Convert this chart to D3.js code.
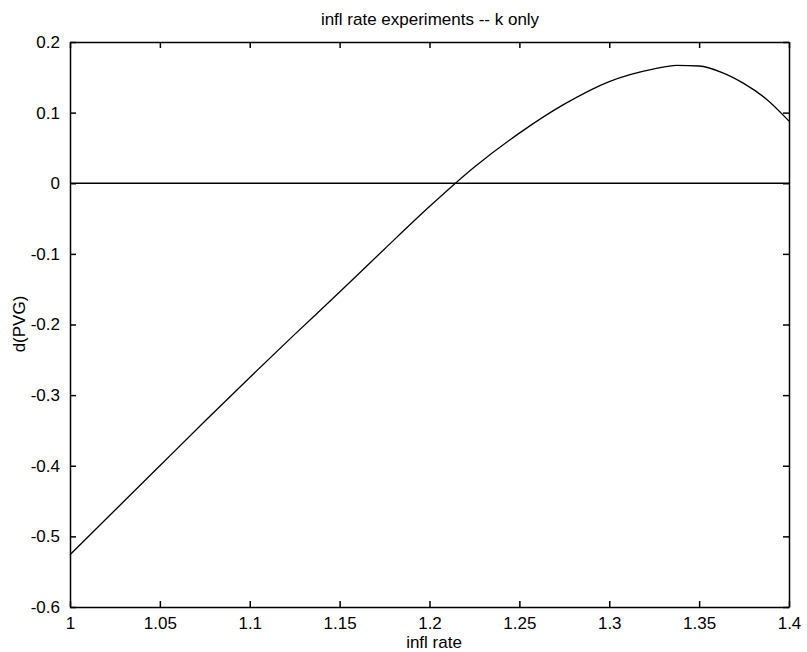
<!DOCTYPE html>
<html>
<head>
<meta charset="utf-8">
<script src="https://cdn.jsdelivr.net/npm/d3@7"></script>
<style>
body { margin: 0; background: #fff; }
text { font-family: "Liberation Sans", Arial, sans-serif; fill: #000; }
</style>
</head>
<body>
<svg id="chart" width="807" height="652"></svg>
<script>
// values
var inflRate = [1.000, 1.025, 1.050, 1.075, 1.100, 1.125, 1.150, 1.175, 1.200, 1.225,
                1.250, 1.275, 1.300, 1.325, 1.3375, 1.350, 1.3625, 1.375, 1.3875, 1.400];
var dPVG = [-0.526, -0.463, -0.400, -0.337, -0.275, -0.214, -0.154, -0.093, -0.033, 0.023,
            0.071, 0.112, 0.144, 0.162, 0.167, 0.166, 0.157, 0.141, 0.119, 0.088];
var zeroX = [1, 1.4];
var zeroY = [0, 0];
var xTicks = [1, 1.05, 1.1, 1.15, 1.2, 1.25, 1.3, 1.35, 1.4];
var yTicks = [-0.6, -0.5, -0.4, -0.3, -0.2, -0.1, 0, 0.1, 0.2];

var svg = d3.select("#chart");
var plotL = 70, plotR = 789, plotT = 42, plotB = 607;

var x = d3.scaleLinear().domain([1, 1.4]).range([plotL, plotR]);
var y = d3.scaleLinear().domain([-0.6, 0.2]).range([plotB, plotT]);

var fmt = function(d) { return String(+d.toFixed(2)); };

// ticks inward on all four sides
svg.append("g").attr("transform", "translate(0," + plotB + ")")
    .call(d3.axisBottom(x).tickValues(xTicks).tickFormat(fmt).tickSizeInner(-6).tickSizeOuter(0).tickPadding(10));
svg.append("g").attr("transform", "translate(0," + plotT + ")")
    .call(d3.axisTop(x).tickValues(xTicks).tickFormat("").tickSizeInner(-6).tickSizeOuter(0));
svg.append("g").attr("transform", "translate(" + plotL + ",0)")
    .call(d3.axisLeft(y).tickValues(yTicks).tickFormat(fmt).tickSizeInner(-6).tickSizeOuter(0).tickPadding(10));
svg.append("g").attr("transform", "translate(" + plotR + ",0)")
    .call(d3.axisRight(y).tickValues(yTicks).tickFormat("").tickSizeInner(-6).tickSizeOuter(0));

svg.selectAll(".domain").attr("stroke", "#000").attr("stroke-width", 1.5);
svg.selectAll(".tick line").attr("stroke", "#000").attr("stroke-width", 1.5);
svg.selectAll(".tick text").style("font-size", "17px").attr("fill", "#000");

var line = d3.line().x(function(d) { return x(d[0]); }).y(function(d) { return y(d[1]); });

svg.append("path")
    .datum(zeroX.map(function(v, i) { return [v, zeroY[i]]; }))
    .attr("d", line).attr("fill", "none").attr("stroke", "#000").attr("stroke-width", 1.3);

svg.append("path")
    .datum(inflRate.map(function(v, i) { return [v, dPVG[i]]; }))
    .attr("d", line.curve(d3.curveMonotoneX)).attr("fill", "none").attr("stroke", "#000").attr("stroke-width", 1.3);

svg.append("text").attr("x", 430).attr("y", 25).attr("text-anchor", "middle")
    .style("font-size", "17px").text("infl rate experiments -- k only");
svg.append("text").attr("x", 434).attr("y", 648).attr("text-anchor", "middle")
    .style("font-size", "17px").text("infl rate");
svg.append("text").attr("transform", "translate(25,324) rotate(-90)").attr("text-anchor", "middle")
    .style("font-size", "17px").text("d(PVG)");
</script>
</body>
</html>
